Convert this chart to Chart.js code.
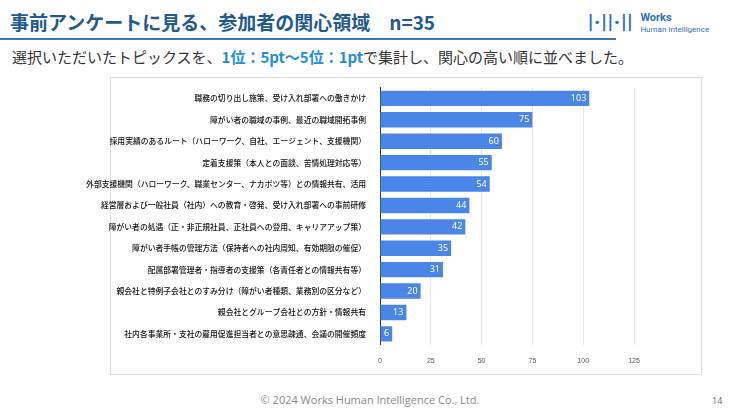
<!DOCTYPE html>
<html>
<head>
<meta charset="utf-8">
<script src="https://cdn.jsdelivr.net/npm/chart.js"></script>
<style>
body { margin:0; width:740px; height:412px; background:#fff; font-family:"Noto Sans CJK JP", sans-serif; position:relative; overflow:hidden; }
#title { position:absolute; left:10px; top:8px; font-size:19px; font-weight:bold; color:#1f5a8c; }
#rule { position:absolute; left:0; top:38px; width:616px; height:2px; background:#3a78b5; }
#logo { position:absolute; left:588px; top:10px; color:#2f6fb6; font-family:Roboto, sans-serif; }
#sub { position:absolute; left:12px; top:46px; font-size:15px; color:#333; }
#sub b { color:#1e90d6; }
#box { position:absolute; left:110px; top:77px; width:590px; height:296px; border:1px solid #ddd; }
#c { position:absolute; left:80px; top:77px; }
#foot { position:absolute; left:0; width:740px; top:392px; text-align:center; font-size:11px; color:#888; font-family:"Open Sans", sans-serif; }
#page { position:absolute; left:712px; top:394px; font-size:9px; color:#666; font-family:"Open Sans", sans-serif; }
</style>
</head>
<body>
<div id="title">事前アンケートに見る、参加者の関心領域　n=35</div>
<div id="rule"></div>
<div id="logo">
  <span style="font-size:20px;font-weight:900;letter-spacing:1px;vertical-align:middle;">|·||·||</span>
  <span style="display:inline-block;vertical-align:middle;line-height:9px;margin-left:3px;">
    <span style="font-size:11px;font-weight:bold;">Works</span><br>
    <span style="font-size:8px;">Human Intelligence</span>
  </span>
</div>
<div id="sub">選択いただいたトピックスを、<b>1位：5pt～5位：1pt</b>で集計し、関心の高い順に並べました。</div>
<div id="box"></div>
<canvas id="c" width="620" height="300"></canvas>
<div id="foot">© 2024 Works Human Intelligence Co., Ltd.</div>
<div id="page">14</div>
<script>
const topics = [
  '職務の切り出し施策、受け入れ部署への働きかけ',
  '障がい者の職域の事例、最近の職域開拓事例',
  '採用実績のあるルート（ハローワーク、自社、エージェント、支援機関）',
  '定着支援策（本人との面談、苦情処理対応等）',
  '外部支援機関（ハローワーク、職業センター、ナカポツ等）との情報共有、活用',
  '経営層および一般社員（社内）への教育・啓発、受け入れ部署への事前研修',
  '障がい者の処遇（正・非正規社員、正社員への登用、キャリアアップ策）',
  '障がい者手帳の管理方法（保持者への社内周知、有効期限の催促）',
  '配属部署管理者・指導者の支援策（各責任者との情報共有等）',
  '親会社と特例子会社とのすみ分け（障がい者種類、業務別の区分など）',
  '親会社とグループ会社との方針・情報共有',
  '社内各事業所・支社の雇用促進担当者との意思疎通、会議の開催頻度'
];
const points = [103, 75, 60, 55, 54, 44, 42, 35, 31, 20, 13, 6];
const xTicks = [0, 25, 50, 75, 100, 125];

const valueLabels = {
  id: 'valueLabels',
  afterDatasetsDraw(chart) {
    const ctx = chart.ctx;
    ctx.save();
    ctx.fillStyle = '#fff';
    ctx.font = '9px "Noto Sans", sans-serif';
    ctx.textAlign = 'right';
    ctx.textBaseline = 'middle';
    chart.getDatasetMeta(0).data.forEach((bar, i) => {
      ctx.fillText(points[i], bar.x - 3, bar.y);
    });
    ctx.restore();
  }
};

new Chart(document.getElementById('c'), {
  type: 'bar',
  data: {
    labels: topics,
    datasets: [{ data: points, backgroundColor: '#4a86e8', barPercentage: 0.9, categoryPercentage: 0.8 }]
  },
  options: {
    indexAxis: 'y',
    responsive: false,
    animation: false,
    layout: { padding: { top: 8, right: 66, bottom: 0, left: 0 } },
    plugins: { legend: { display: false }, tooltip: { enabled: false } },
    scales: {
      x: {
        min: 0, max: 125,
        afterBuildTicks: s => { s.ticks = xTicks.map(v => ({ value: v })); },
        grid: { color: '#e6e6e6', drawTicks: false },
        border: { display: false },
        ticks: { color: '#555', font: { size: 7 }, padding: 12 }
      },
      y: {
        afterFit: s => { s.width = 300; },
        grid: { display: false },
        border: { color: '#333' },
        ticks: { color: '#111', font: { size: 7.8, family: '"Noto Sans CJK JP"', weight: '500' }, padding: 6, autoSkip: false }
      }
    }
  },
  plugins: [valueLabels]
});
</script>
</body>
</html>
